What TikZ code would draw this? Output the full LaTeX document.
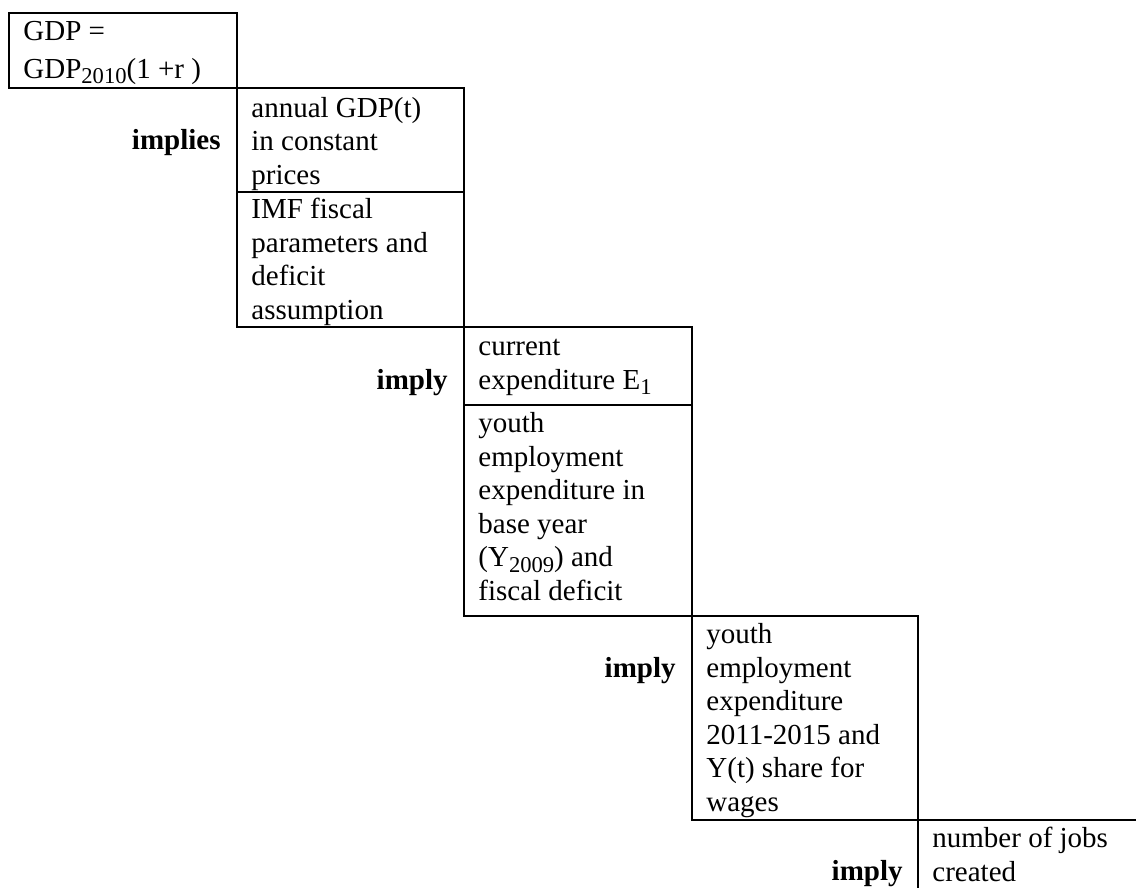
\documentclass[tikz,border=0pt]{standalone}
\usepackage{fontspec}
\setmainfont{Liberation Serif}
\newcommand{\fst}{\rule{0pt}{14pt}}
\newcommand{\sbs}[1]{\raisebox{-2.8pt}{\fontsize{11.3}{12}\selectfont #1}}
\begin{document}
\begin{tikzpicture}[x=0.5pt,y=-0.5pt,
  rule/.style={line width=1pt},
  cell/.style={anchor=north west,inner sep=0pt,align=left,font=\fontsize{14.5}{16.8}\selectfont},
  lab/.style={anchor=base east,inner sep=0pt,font=\fontsize{14.5}{16.8}\selectfont\bfseries}]
\useasboundingbox (0,0) rectangle (1136,888);
% box outlines
\draw[rule] (9,13) rectangle (237,88);
\draw[rule] (237,88) rectangle (464,327);
\draw[rule] (237,192) -- (464,192);
\draw[rule] (464,327) rectangle (692,616);
\draw[rule] (464,405) -- (692,405);
\draw[rule] (692,616) rectangle (918,820);
\draw[rule] (918,888) -- (918,820) -- (1136,820);
% cell texts
\node[cell] (b1) at (23,12) {\fst GDP =\\[2.2pt]GDP\sbs{2010}(1 +r )};
\node[cell] (b2a) at (251,89) {\fst annual GDP(t)\\in constant\\prices};
\node[cell] (b2b) at (251,190) {\fst IMF fiscal\\parameters and\\deficit\\assumption};
\node[cell] (b3a) at (478,327) {\fst current\\expenditure E\sbs{1}};
\node[cell] (b3b) at (478,404) {\fst youth\\employment\\expenditure in\\base year\\(Y\sbs{2009}) and\\fiscal deficit};
\node[cell] (b4) at (706,615) {\fst youth\\employment\\expenditure\\2011-2015 and\\Y(t) share for\\wages};
\node[cell] (b5) at (932,819) {\fst number of jobs\\created};
% labels
\node[lab] (l1) at (221,150) {implies};
\node[lab] (l2) at (448,389) {imply};
\node[lab] (l3) at (676,677) {imply};
\node[lab] (l4) at (903,880) {imply};
\end{tikzpicture}
\end{document}
